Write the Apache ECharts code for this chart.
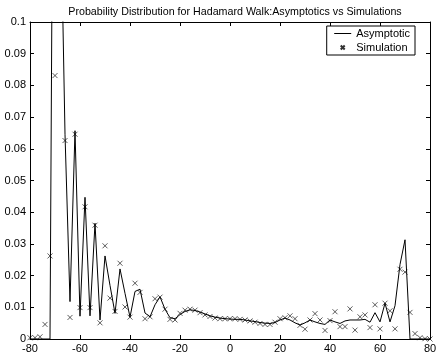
<!DOCTYPE html>
<html>
<head>
<meta charset="utf-8">
<script src="https://cdn.jsdelivr.net/npm/echarts@6/dist/echarts.min.js"></script>
<style>
    html, body { margin: 0; padding: 0; background: #fff; }
    #chart { width: 443px; height: 357px; }
</style>
</head>
<body>
<div id="chart"></div>
<script>
// positions on the line (even sites)
const positions = [-80, -78, -76, -74, -72, -70, -68, -66, -64, -62, -60, -58, -56, -54, -52, -50, -48, -46, -44, -42, -40,
    -38, -36, -34, -32, -30, -28, -26, -24, -22, -20, -18, -16, -14, -12, -10, -8, -6, -4, -2, 0,
    2, 4, 6, 8, 10, 12, 14, 16, 18, 20, 22, 24, 26, 28, 30, 32, 34, 36, 38, 40,
    42, 44, 46, 48, 50, 52, 54, 56, 58, 60, 62, 64, 66, 68, 70, 72, 74, 76, 78, 80];

// asymptotic curve
const asymptotic = [0, 0, 0, 0, 0, 0.28, 0.15, 0.0646, 0.0118, 0.0657, 0.0072, 0.0447, 0.0073, 0.0365, 0.006, 0.0262, 0.0169, 0.0081, 0.0221, 0.0144, 0.0069,
    0.015, 0.0157, 0.0082, 0.007, 0.0108, 0.0133, 0.0094, 0.0067, 0.0064, 0.0077, 0.0087, 0.0092, 0.009, 0.0085, 0.0079, 0.0073, 0.0069, 0.0066, 0.0064, 0.0063,
    0.0062, 0.0062, 0.006, 0.0057, 0.0055, 0.0052, 0.005, 0.0049, 0.0052, 0.006, 0.0066, 0.006, 0.0051, 0.0044, 0.0051, 0.006, 0.0054, 0.0049, 0.0046, 0.006,
    0.0054, 0.0049, 0.0057, 0.006, 0.006, 0.006, 0.0062, 0.0053, 0.0083, 0.0054, 0.0113, 0.0054, 0.0105, 0.0235, 0.0313, 0, 0, 0, 0, 0];

// simulation results
const simulation = [0.0004, 0.0004, 0.0007, 0.0046, 0.0262, 0.0831, 0.112, 0.0626, 0.0068, 0.0646, 0.0099, 0.0417, 0.0099, 0.0359, 0.0051, 0.0294, 0.0129, 0.0087, 0.0239, 0.0101, 0.0069,
    0.0176, 0.0147, 0.0064, 0.007, 0.0127, 0.0132, 0.0094, 0.0062, 0.006, 0.0081, 0.0091, 0.0094, 0.0091, 0.0083, 0.0076, 0.0071, 0.0066, 0.0064, 0.0064, 0.0064,
    0.0064, 0.0062, 0.006, 0.0057, 0.0053, 0.0049, 0.0046, 0.0046, 0.0053, 0.0064, 0.0067, 0.0073, 0.0064, 0.0043, 0.0031, 0.006, 0.008, 0.006, 0.0027, 0.0058,
    0.0086, 0.0039, 0.0039, 0.0095, 0.0028, 0.007, 0.0076, 0.0036, 0.0108, 0.0032, 0.0113, 0.0089, 0.0032, 0.022, 0.0211, 0.0084, 0.0017, 0.0004, 0.0001, 0];

window.addEventListener('load', function() {
    let myChart = echarts.init(document.getElementById('chart'), null, { renderer: 'canvas' });

    let font = 'Liberation Sans, Arial, sans-serif';
    let axisLine = { show: true, onZero: false, lineStyle: { color: '#000', width: 1 } };
    let tick = { show: true, inside: true, length: 4, lineStyle: { color: '#000' } };

    let option = {
        animation: false,
        backgroundColor: '#fff',
        textStyle: { fontFamily: font },
        title: {
            text: 'Probability Distribution for Hadamard Walk:Asymptotics vs Simulations',
            left: 230,
            textAlign: 'center',
            top: 2,
            textStyle: { fontSize: 10.7, fontWeight: 'normal', color: '#000', fontFamily: font }
        },
        legend: {
            orient: 'vertical',
            right: 28,
            top: 26,
            padding: [2, 5, 2, 7],
            itemGap: 3,
            itemWidth: 17,
            itemHeight: 4,
            borderColor: '#000',
            borderWidth: 1,
            backgroundColor: '#fff',
            lineStyle: { width: 1 },
            textStyle: { fontSize: 11, color: '#000', fontFamily: font },
            data: [
                { name: 'Asymptotic', itemStyle: { opacity: 0 } },
                'Simulation'
            ]
        },
        grid: {
            left: 30,
            right: 13,
            top: 22,
            bottom: 18,
            containLabel: false,
            outerBoundsMode: 'none'
        },
        xAxis: [{
            type: 'value',
            min: -80,
            max: 80,
            interval: 20,
            position: 'bottom',
            axisLine: axisLine,
            axisTick: tick,
            splitLine: { show: false },
            axisLabel: { color: '#000', fontSize: 11, margin: 4, fontFamily: font }
        }, {
            type: 'value',
            min: -80,
            max: 80,
            interval: 20,
            position: 'top',
            axisLine: axisLine,
            axisTick: tick,
            splitLine: { show: false },
            axisLabel: { show: false }
        }],
        yAxis: [{
            type: 'value',
            min: 0,
            max: 0.1,
            interval: 0.01,
            position: 'left',
            axisLine: axisLine,
            axisTick: tick,
            splitLine: { show: false },
            axisLabel: {
                color: '#000',
                fontSize: 11,
                margin: 4,
                fontFamily: font,
                formatter: function(v) { return String(+v.toFixed(2)); }
            }
        }, {
            type: 'value',
            min: 0,
            max: 0.1,
            interval: 0.01,
            position: 'right',
            axisLine: axisLine,
            axisTick: tick,
            splitLine: { show: false },
            axisLabel: { show: false }
        }],
        series: [{
            name: 'Asymptotic',
            type: 'line',
            symbol: 'none',
            clip: true,
            lineStyle: { color: '#000', width: 1 },
            itemStyle: { color: '#000' },
            data: positions.map(function(x, i) { return [x, asymptotic[i]]; })
        }, {
            name: 'Simulation',
            type: 'scatter',
            symbol: 'path://M0,0L10,10M10,0L0,10',
            symbolSize: 5,
            symbolKeepAspect: true,
            clip: true,
            itemStyle: { color: 'transparent', borderColor: '#000', borderWidth: 0.8 },
            data: positions.map(function(x, i) { return [x, simulation[i]]; })
        }]
    };

    myChart.setOption(option);
});
</script>
</body>
</html>
